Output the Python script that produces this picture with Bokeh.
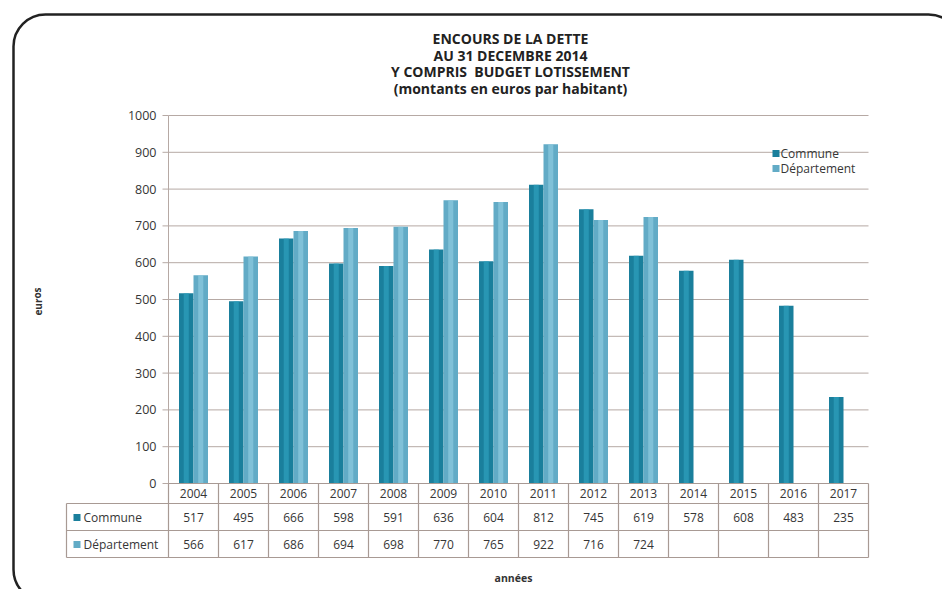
from bokeh.plotting import figure
from bokeh.models import ColumnDataSource, Range1d, BoxAnnotation
from bokeh.core.properties import value
from bokeh.embed import file_html
from bokeh.resources import INLINE

# ---------------- data ----------------
years = ["2004", "2005", "2006", "2007", "2008", "2009", "2010",
         "2011", "2012", "2013", "2014", "2015", "2016", "2017"]
commune = [517, 495, 666, 598, 591, 636, 604, 812, 745, 619, 578, 608, 483, 235]
departement = [566, 617, 686, 694, 698, 770, 765, 922, 716, 724]
y_ticks = [0, 100, 200, 300, 400, 500, 600, 700, 800, 900, 1000]
series_names = ["Commune", "Département"]
title_lines = ["ENCOURS DE LA DETTE", "AU 31 DECEMBRE 2014",
               "Y COMPRIS\u00a0 BUDGET LOTISSEMENT", "(montants en euros par habitant)"]
y_label = "euros"
x_label = "années"

# ---------------- layout constants (page pixels) ----------------
W, H = 942, 589
MARGIN = 0
X0_PX = 168          # page x of category axis origin
CAT_PX = 50          # px per category
Y0_PX = 483          # page y of value 0
Y1000_PX = 115       # page y of value 1000
PX_PER_UNIT = (Y0_PX - Y1000_PX) / 1000.0


def fx(px):
    return (px - X0_PX) / CAT_PX


def fy(py):
    return (Y0_PX - py) / PX_PER_UNIT


FONT = value("Open Sans")
C_COM = "#1a7f9c"
C_COM_HI = "#2fa0bd"
C_DEP = "#62abc6"
C_DEP_HI = "#8dcbe0"
GRID = "#b6a9a4"
TABLE = "#a89a94"
TXT = "#363636"

p = figure(width=W, height=H, output_backend="svg", toolbar_location=None,
           x_axis_type=None, y_axis_type=None, title=None,
           x_range=Range1d(fx(MARGIN), fx(MARGIN + W)),
           y_range=Range1d(fy(MARGIN + H), fy(MARGIN)),
           min_border=0, outline_line_color=None)
p.background_fill_color = "white"
p.border_fill_color = "white"

n = len(years)
idx = list(range(n))

# ---------------- gridlines & axis ----------------
grid_src = ColumnDataSource(dict(y=y_ticks[1:], x0=[0] * 10, x1=[n] * 10))
p.segment(x0="x0", y0="y", x1="x1", y1="y", source=grid_src,
          line_color=GRID, line_width=1)
tick_src = ColumnDataSource(dict(y=y_ticks, x0=[fx(X0_PX - 6)] * len(y_ticks),
                                 x1=[0] * len(y_ticks),
                                 lab=[str(t) for t in y_ticks],
                                 xl=[fx(X0_PX - 12)] * len(y_ticks)))
p.segment(x0="x0", y0="y", x1="x1", y1="y", source=tick_src,
          line_color=GRID, line_width=1)
p.segment(x0=[0], y0=[0], x1=[0], y1=[1000], line_color=GRID, line_width=1)
p.text(x="xl", y="y", text="lab", source=tick_src, text_align="right",
       text_baseline="middle", text_font=FONT, text_font_size="12.5px",
       text_color=TXT)

# ---------------- bars ----------------
bw = 0.29
com_src = ColumnDataSource(dict(x=[i + 0.5 - 0.145 for i in idx], top=commune))
dep_src = ColumnDataSource(dict(x=[i + 0.5 + 0.145 for i in range(len(departement))],
                                top=departement))
p.vbar(x="x", top="top", bottom=0, width=bw, source=com_src,
       fill_color=C_COM, line_color=None)
p.vbar(x="x", top="top", bottom=0, width=bw * 0.35, source=com_src,
       fill_color=C_COM_HI, line_color=None, fill_alpha=0.7)
p.vbar(x="x", top="top", bottom=0, width=bw, source=dep_src,
       fill_color=C_DEP, line_color=None)
p.vbar(x="x", top="top", bottom=0, width=bw * 0.35, source=dep_src,
       fill_color=C_DEP_HI, line_color=None, fill_alpha=0.7)

# ---------------- data table ----------------
row_top = fy(503)
row_mid = fy(530)
row_bot = fy(557)
left_x = fx(66)
# horizontal lines
p.segment(x0=[0, left_x, left_x, left_x], y0=[0, row_top, row_mid, row_bot],
          x1=[n, n, n, n], y1=[0, row_top, row_mid, row_bot],
          line_color=TABLE, line_width=1.2)
# vertical lines
p.segment(x0=list(range(n + 1)), y0=[0] * (n + 1), x1=list(range(n + 1)),
          y1=[row_bot] * (n + 1), line_color=TABLE, line_width=1.2)
p.segment(x0=[left_x], y0=[row_top], x1=[left_x], y1=[row_bot],
          line_color=TABLE, line_width=1.2)

yr_src = ColumnDataSource(dict(x=[i + 0.5 for i in idx], y=[fy(493)] * n, t=years))
p.text(x="x", y="y", text="t", source=yr_src, text_align="center",
       text_baseline="middle", text_font=FONT, text_font_size="12px", text_color=TXT)
cv_src = ColumnDataSource(dict(x=[i + 0.5 for i in idx], y=[fy(517)] * n,
                               t=[str(v) for v in commune]))
p.text(x="x", y="y", text="t", source=cv_src, text_align="center",
       text_baseline="middle", text_font=FONT, text_font_size="12px", text_color=TXT)
dv_src = ColumnDataSource(dict(x=[i + 0.5 for i in range(len(departement))],
                               y=[fy(544)] * len(departement),
                               t=[str(v) for v in departement]))
p.text(x="x", y="y", text="t", source=dv_src, text_align="center",
       text_baseline="middle", text_font=FONT, text_font_size="12px", text_color=TXT)

# row labels with icons
rl_src = ColumnDataSource(dict(x=[fx(83)] * 2, y=[fy(517), fy(544)],
                               xi=[fx(76.5)] * 2, t=series_names,
                               c=[C_COM, C_DEP]))
p.scatter(x="xi", y="y", source=rl_src, marker="square", size=7,
          fill_color="c", line_color=None)
p.text(x="x", y="y", text="t", source=rl_src, text_align="left",
       text_baseline="middle", text_font=FONT, text_font_size="12px", text_color=TXT)

# ---------------- legend in chart ----------------
lg_src = ColumnDataSource(dict(x=[fx(780)] * 2, y=[fy(153), fy(168)],
                               xi=[fx(775.5)] * 2, t=series_names,
                               c=[C_COM, C_DEP]))
p.scatter(x="xi", y="y", source=lg_src, marker="square", size=7,
          fill_color="c", line_color=None)
p.text(x="x", y="y", text="t", source=lg_src, text_align="left",
       text_baseline="middle", text_font=FONT, text_font_size="12px", text_color=TXT)

# ---------------- titles / axis labels ----------------
tt_src = ColumnDataSource(dict(x=[fx(510)] * 4, y=[fy(38), fy(55), fy(71), fy(88)],
                               t=title_lines))
p.text(x="x", y="y", text="t", source=tt_src, text_align="center",
       text_baseline="middle", text_font=FONT, text_font_size="14px",
       text_font_style="bold", text_color="#222222")
p.text(x=[fx(37)], y=[fy(301)], text=[y_label], angle=1.5708,
       text_align="center", text_baseline="middle", text_font=FONT,
       text_font_size="10px", text_font_style="bold", text_color="#333333")
p.text(x=[fx(513)], y=[fy(577)], text=[x_label], text_align="center",
       text_baseline="middle", text_font=FONT, text_font_size="10.5px",
       text_font_style="bold", text_color="#333333")

# ---------------- rounded frame ----------------
frame = BoxAnnotation(left=fx(13), right=fx(960), top=fy(14), bottom=fy(601),
                      fill_alpha=0, line_color="#222222", line_alpha=1.0,
                      line_width=2.5, border_radius=32)
p.add_layout(frame)

open("out.html", "w").write(file_html(p, INLINE))
